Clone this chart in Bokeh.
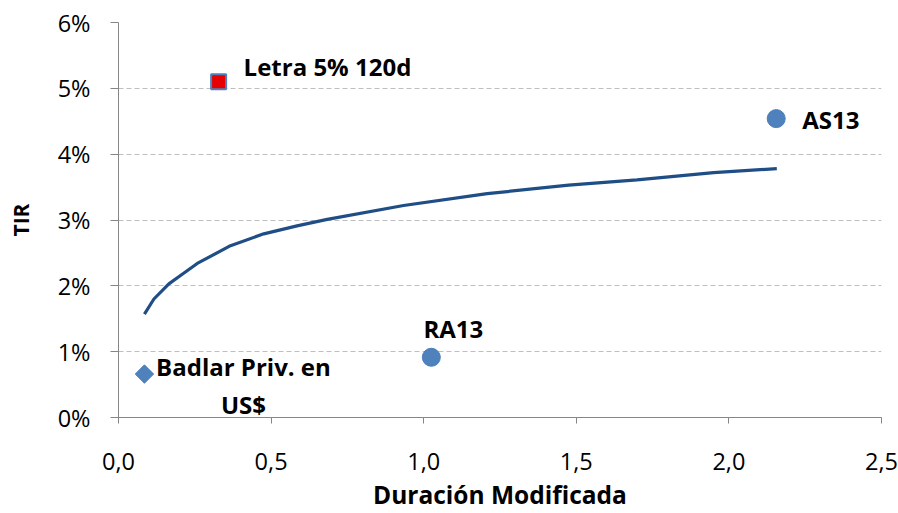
from bokeh.plotting import figure
from bokeh.models import Range1d, FixedTicker, ColumnDataSource
from bokeh.core.properties import value
from bokeh.embed import file_html
from bokeh.resources import INLINE

# ---- data ----
curve_duration = [0.085, 0.116, 0.165, 0.21, 0.258, 0.367, 0.476, 0.585, 0.684,
                  0.934, 1.208, 1.475, 1.699, 1.95, 2.157]
curve_tir = [1.57, 1.80, 2.03, 2.18, 2.34, 2.61, 2.79, 2.91, 3.01,
             3.22, 3.40, 3.53, 3.61, 3.72, 3.78]

bond_names = ["Letra 5% 120d", "Badlar Priv. en\nUS$", "RA13", "AS13"]
bond_duration = [0.328, 0.085, 1.025, 2.155]
bond_tir = [5.10, 0.66, 0.915, 4.54]

x_ticks = [0.0, 0.5, 1.0, 1.5, 2.0, 2.5]
x_tick_labels = ["0,0", "0,5", "1,0", "1,5", "2,0", "2,5"]
y_ticks = [0, 1, 2, 3, 4, 5, 6]
y_tick_labels = ["0%", "1%", "2%", "3%", "4%", "5%", "6%"]
x_title = "Duración Modificada"
y_title = "TIR"

FONT = "Open Sans"
GREY = "#868686"

p = figure(width=898, height=513, output_backend="svg", toolbar_location=None,
           x_range=Range1d(0, 2.5), y_range=Range1d(0, 6),
           min_border_left=118, min_border_right=17, min_border_top=22,
           min_border_bottom=96)
p.outline_line_color = None
p.background_fill_color = "white"
p.border_fill_color = "white"

# grid
p.xgrid.grid_line_color = None
p.ygrid.grid_line_color = "#BEBEBE"
p.ygrid.grid_line_dash = "5 3"
p.ygrid.grid_line_width = 1
p.ygrid.ticker = FixedTicker(ticks=y_ticks)

# axes
p.xaxis.ticker = FixedTicker(ticks=x_ticks)
p.yaxis.ticker = FixedTicker(ticks=y_ticks)
p.xaxis.major_label_overrides = {t: l for t, l in zip(x_ticks, x_tick_labels)}
p.yaxis.major_label_overrides = {t: l for t, l in zip(y_ticks, y_tick_labels)}
for ax in (p.xaxis, p.yaxis):
    ax.axis_line_color = GREY
    ax.major_tick_line_color = GREY
    ax.minor_tick_line_color = None
    ax.major_tick_in = 0
    ax.major_label_text_font = FONT
    ax.major_label_text_font_size = "23.5px"
    ax.major_label_text_color = "#000000"
    ax.axis_label_text_font = FONT
    ax.axis_label_text_font_style = "bold"
    ax.axis_label_text_font_size = "21px"
    ax.axis_label_text_color = "#000000"
p.yaxis.major_tick_out = 8
p.xaxis.major_tick_out = 6
p.yaxis.major_label_standoff = 20
p.xaxis.major_label_standoff = 29
p.yaxis.axis_label = y_title
p.yaxis.axis_label_standoff = 20
p.xaxis.axis_label = x_title
p.xaxis.axis_label_standoff = 5
p.xaxis.axis_label_text_font_size = "24.5px"

# curve
p.line(curve_duration, curve_tir, line_color="#1F4E86", line_width=3.2)

# markers
p.scatter([bond_duration[0]], [bond_tir[0]], marker="square", size=15,
          fill_color="#E60000", line_color="#4F81BD", line_width=2)
p.scatter([bond_duration[1]], [bond_tir[1]], marker="square", size=13, angle=0.7854,
          fill_color="#4F81BD", line_color="#4A7EBB", line_width=1)
p.scatter(bond_duration[2:], bond_tir[2:], marker="circle", size=18,
          fill_color="#4F81BD", line_color="#4A7EBB", line_width=1)

# labels
src = ColumnDataSource(dict(
    x=bond_duration, y=bond_tir, text=bond_names,
    xo=[25, 99, 22, 26], yo=[-15, 11, -29, 1],
    align=["left", "center", "center", "left"],
))
p.text(x="x", y="y", text="text", x_offset="xo", y_offset="yo", source=src,
       text_align="align", text_baseline="middle",
       text_font=value(FONT), text_font_style="bold", text_font_size="24px",
       text_color="#000000", text_line_height=1.15)

open("out.html", "w").write(file_html(p, INLINE))
